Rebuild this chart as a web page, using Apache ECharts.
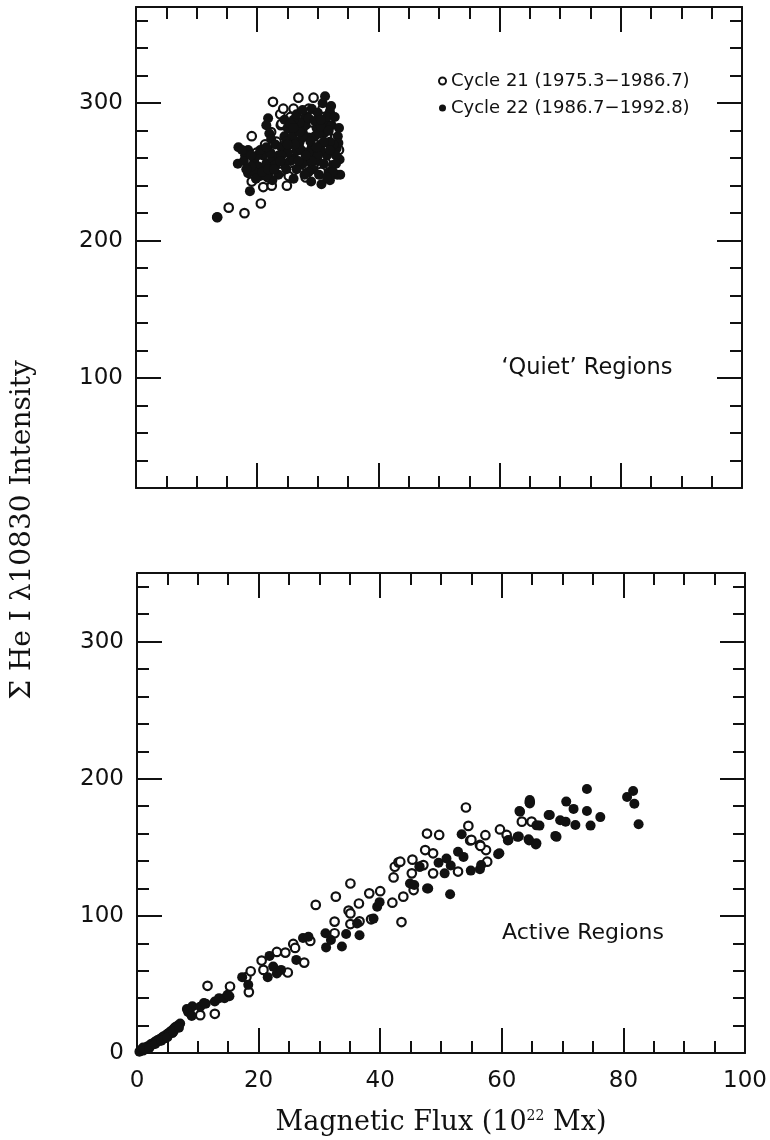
<!DOCTYPE html>
<html>
<head>
<meta charset="utf-8">
<script src="https://cdn.jsdelivr.net/npm/echarts@6/dist/echarts.min.js"></script>
<style>
html, body { margin: 0; padding: 0; background: #fff; }
#chart { width: 770px; height: 1140px; }
</style>
</head>
<body>
<div id="chart"></div>
<script>
// 刻度标签
const xLabels = [0, 20, 40, 60, 80, 100]
const quietYLabels = [100, 200, 300]
const activeYLabels = [0, 100, 200, 300]
const legendNames = ['Cycle 21 (1975.3\u22121986.7)', 'Cycle 22 (1986.7\u22121992.8)']

// 'Quiet' regions: [flux, intensity]
const quietCycle21 = [
  [13.4, 217], [15.3, 224], [17.9, 220], [20.6, 227], [19.1, 243], [21.0, 239], [22.4, 240],
  [22.9, 248], [23.8, 250], [24.9, 240], [19.9, 264], [21.3, 270], [22.9, 266], [19.1, 276],
  [23.9, 284], [23.8, 292], [24.3, 296], [22.6, 301], [26.8, 304], [29.3, 304], [26.0, 251],
  [27.8, 255], [29.3, 255], [30.4, 265], [31.0, 266], [27.9, 288], [29.0, 290], [30.0, 286],
  [30.8, 296], [28.5, 296], [25.5, 290], [26.5, 286], [25.0, 276], [27.0, 262], [28.2, 270],
  [25.8, 268], [31.5, 276], [32.5, 260], [22.0, 256], [20.5, 257], [24.5, 262], [26.5, 278],
  [28.8, 280], [29.5, 270], [30.5, 250], [26.0, 296], [27.4, 292], [32.8, 280], [31.8, 287],
  [24.0, 285], [20.0, 252], [21.8, 246], [25.2, 247], [28.0, 246], [23.2, 272], [22.3, 279],
  [33.5, 266]
]
const quietCycle22 = [
  [13.4, 217], [16.9, 268], [16.8, 256], [18.8, 236], [18.5, 249], [18.0, 262], [18.5, 266],
  [19.5, 258], [20.2, 254], [21.0, 262], [21.5, 256], [22.0, 250], [20.5, 247], [19.5, 250],
  [22.5, 260], [23.0, 255], [21.8, 289], [21.5, 284], [22.0, 278], [22.3, 274], [23.0, 270],
  [24.0, 268], [24.5, 276], [25.0, 282], [25.5, 270], [26.0, 260], [26.5, 265], [27.0, 272],
  [27.5, 278], [28.0, 284], [28.5, 275], [29.0, 268], [29.5, 262], [30.0, 258], [30.5, 270],
  [31.0, 278], [31.5, 284], [32.0, 294], [32.3, 284], [33.3, 276], [33.1, 267], [33.6, 259],
  [33.7, 248], [30.6, 241], [28.9, 243], [31.2, 305], [30.8, 300], [31.5, 290], [29.8, 282],
  [28.0, 290], [26.8, 282], [25.8, 276], [24.8, 272], [27.2, 266], [28.2, 258], [29.2, 252],
  [30.2, 248], [31.8, 250], [32.5, 255], [33.0, 262], [33.4, 271], [32.6, 270], [31.5, 262],
  [30.5, 266], [29.5, 276], [28.5, 264], [27.5, 256], [26.5, 252], [25.5, 258], [24.5, 256],
  [23.5, 262], [23.5, 248], [22.5, 244], [21.5, 247], [20.0, 262], [19.0, 254], [22.2, 264],
  [25.0, 264], [27.0, 286], [26.0, 288], [29.0, 296], [30.0, 293], [32.0, 272], [32.8, 290],
  [31.0, 256], [33.2, 248], [32.0, 244], [27.5, 276], [28.8, 272], [30.2, 278], [26.2, 270],
  [24.5, 288], [25.5, 285], [26.5, 292], [27.5, 295], [28.5, 289], [29.5, 287], [30.5, 283],
  [31.0, 272], [32.0, 266], [33.0, 256], [32.5, 250], [31.5, 246], [30.0, 262], [29.0, 258],
  [28.0, 262], [27.0, 279], [26.0, 282], [25.0, 270], [24.0, 262], [24.8, 252], [26.8, 258],
  [29.8, 268], [31.8, 280], [33.5, 282], [32.2, 298], [30.5, 288], [28.5, 250], [27.8, 248],
  [26.0, 245], [17.8, 258], [18.2, 252], [19.8, 245], [20.8, 250], [21.8, 252], [22.8, 252],
  [20.5, 266], [21.5, 268], [19.0, 262], [17.5, 266], [23.8, 258]
]

// Active regions: [flux, intensity]
const activeCycle21 = [
  [1.0, 2], [2.4, 6], [3.6, 9], [4.9, 13], [6.2, 18], [8.6, 30], [10.4, 27.6], [12.8, 28.6],
  [11.6, 49], [15.3, 48.5], [18.4, 44.4], [18.0, 55.3], [18.7, 59.6], [20.5, 67.4], [20.8, 60.6],
  [23.0, 73.7], [24.4, 73.2], [24.8, 58.7], [25.7, 79.5], [26.0, 76.6], [27.5, 65.9], [28.5, 81.7],
  [29.4, 108], [32.7, 114], [35.1, 123.6], [32.5, 95.8], [32.5, 87.3], [34.8, 103.8], [35.1, 101.8],
  [36.5, 109], [36.6, 96], [35.1, 94], [38.2, 116.4], [40.0, 118], [38.5, 97.5], [42.0, 109.6],
  [43.5, 95.5], [43.8, 114], [42.2, 128], [42.4, 135.8], [43.0, 139], [45.2, 131], [45.3, 141],
  [46.5, 136], [47.4, 148], [47.7, 160], [49.7, 159], [48.7, 145.6], [48.7, 131], [47.1, 137],
  [52.8, 132.3], [54.1, 179], [54.5, 165.6], [54.8, 155], [55.0, 155.4], [56.4, 151.7],
  [57.4, 148], [57.6, 139.5], [56.5, 151], [57.3, 158.8], [59.7, 163], [60.8, 159],
  [63.3, 168.7], [64.9, 168.7], [64.6, 183], [43.3, 139.5], [45.5, 118.8]
]
const activeCycle22 = [
  [0.4, 1], [0.7, 2], [0.9, 3], [1.2, 2.5], [1.5, 4], [1.8, 5], [2.1, 5.5], [2.3, 6.5],
  [2.6, 7], [2.9, 8], [3.1, 8.5], [3.4, 9.5], [3.7, 10], [4.0, 11], [4.3, 12], [4.6, 12.5],
  [5.0, 14], [5.3, 15], [5.6, 16], [6.0, 17.5], [6.3, 19], [6.7, 20], [7.1, 21.5], [5.8, 14.5],
  [4.4, 10.5], [8.2, 32], [9.1, 34], [8.4, 30], [9.0, 27], [10.4, 33.8], [11.0, 36.4],
  [11.3, 36], [12.8, 37.5], [13.5, 40], [14.4, 40], [14.9, 42.4], [15.2, 41.4], [17.3, 55.3],
  [18.3, 49.7], [21.8, 70.8], [21.5, 55.3], [22.4, 63], [23.0, 58], [23.7, 60.6], [26.2, 67.9],
  [27.3, 83.9], [28.2, 84.8], [31.0, 87.3], [31.1, 77], [31.9, 82.4], [33.7, 77.6], [34.4, 86.8],
  [36.6, 85.8], [36.2, 94.5], [38.9, 98], [39.5, 106.7], [39.9, 110], [44.9, 123.6],
  [45.6, 122.5], [47.9, 120], [47.7, 120], [51.5, 115.7], [46.5, 135.8], [49.6, 138.7],
  [50.6, 131], [50.9, 141.8], [51.6, 136.7], [52.8, 146.7], [53.7, 143], [53.4, 159.5],
  [54.9, 133], [56.4, 134], [56.6, 137], [59.4, 145], [59.6, 145.6], [61.0, 155], [61.1, 155.4],
  [62.6, 157.6], [62.8, 157.8], [62.9, 176.5], [63.0, 176], [64.4, 155.9], [64.5, 155],
  [65.7, 153], [65.6, 152], [64.6, 184.5], [64.6, 182], [66.2, 165.8], [65.7, 166],
  [67.9, 173.6], [67.7, 173.6], [68.8, 158.3], [69.0, 157.6], [69.6, 169.7], [70.5, 168.7],
  [70.6, 183.3], [71.8, 178], [72.1, 166.3], [74.0, 192.5], [74.0, 176.5], [74.6, 165.8],
  [76.2, 172], [80.6, 186.7], [81.6, 191], [81.8, 181.8], [82.5, 166.8],
  [1.0, 4], [2.0, 3.5], [3.0, 6.5], [4.0, 9], [5.0, 11.5], [6.0, 15.5], [6.9, 18.5]
]

const ink = '#111'
const sans = 'DejaVu Sans'
const serif = 'DejaVu Serif'
const lineStyle = { color: ink, width: 2 }

function xAxisFor (grid, pos, showLabels) {
  return {
    type: 'value',
    gridIndex: grid,
    position: pos,
    min: 0,
    max: 100,
    interval: 20,
    axisLine: { show: true, onZero: false, lineStyle: lineStyle },
    axisTick: { show: true, inside: true, length: 25, lineStyle: lineStyle },
    minorTick: { show: true, splitNumber: 4, length: 12, lineStyle: lineStyle },
    axisLabel: { show: showLabels, margin: 17, color: ink, fontFamily: sans, fontSize: 23 },
    splitLine: { show: false }
  }
}

// 主刻度(带标签)
function yMajor (grid, pos, min, labels, showLabels) {
  return {
    type: 'value',
    gridIndex: grid,
    position: pos,
    min: min,
    max: min + 350,
    axisLine: { show: true, onZero: false, lineStyle: lineStyle },
    axisTick: { show: true, inside: true, length: 25, customValues: labels, lineStyle: lineStyle },
    axisLabel: { show: showLabels, customValues: labels, margin: 13, color: ink, fontFamily: sans, fontSize: 23 },
    splitLine: { show: false }
  }
}

// 次刻度, 每 20
function yMinor (grid, pos, min) {
  return {
    type: 'value',
    gridIndex: grid,
    position: pos,
    min: min,
    max: min + 350,
    interval: 20,
    axisLine: { show: false, onZero: false },
    axisTick: { show: true, inside: true, length: 12, lineStyle: lineStyle },
    axisLabel: { show: false },
    splitLine: { show: false }
  }
}

function openSeries (name, data, xi, yi) {
  return {
    name: name, type: 'scatter', xAxisIndex: xi, yAxisIndex: yi, data: data,
    symbol: 'circle', symbolSize: 8.5,
    itemStyle: { color: '#fff', borderColor: ink, borderWidth: 2.2, opacity: 1 }
  }
}
function filledSeries (name, data, xi, yi) {
  return {
    name: name, type: 'scatter', xAxisIndex: xi, yAxisIndex: yi, data: data,
    symbol: 'circle', symbolSize: 10,
    itemStyle: { color: ink, borderColor: ink, borderWidth: 0, opacity: 1 }
  }
}

let myChart = echarts.init(document.getElementById('chart'), null, { renderer: 'canvas' })
myChart.setOption({
  backgroundColor: '#fff',
  animation: false,
  grid: [
    { left: 136, top: 7, width: 606, height: 481 },
    { left: 137, top: 573, width: 608, height: 480 }
  ],
  legend: {
    data: legendNames,
    orient: 'vertical',
    left: 433,
    top: 67,
    itemWidth: 7,
    itemHeight: 7,
    itemGap: 9,
    textStyle: { color: ink, fontFamily: sans, fontSize: 18 }
  },
  xAxis: [
    xAxisFor(0, 'bottom', false),
    xAxisFor(0, 'top', false),
    Object.assign(xAxisFor(1, 'bottom', true), {
      name: 'Magnetic Flux (10{sup|22} Mx)',
      nameLocation: 'middle',
      nameGap: 56,
      nameTextStyle: {
        color: ink, fontFamily: serif, fontSize: 27,
        rich: { sup: { fontFamily: serif, fontSize: 14, verticalAlign: 'top', padding: [0, 0, 13, 0] } }
      }
    }),
    xAxisFor(1, 'top', false)
  ],
  yAxis: [
    yMajor(0, 'left', 20, quietYLabels, true),
    yMinor(0, 'left', 20),
    yMajor(0, 'right', 20, quietYLabels, false),
    yMinor(0, 'right', 20),
    yMajor(1, 'left', 0, activeYLabels, true),
    yMinor(1, 'left', 0),
    yMajor(1, 'right', 0, activeYLabels, false),
    yMinor(1, 'right', 0)
  ],
  graphic: [
    {
      type: 'text', x: 23, y: 530, rotation: Math.PI / 2,
      style: { text: '\u03a3 He I \u03bb10830 Intensity', fill: ink, fontFamily: serif, fontSize: 28, align: 'center', verticalAlign: 'middle' }
    },
    {
      type: 'text', x: 587, y: 368,
      style: { text: '\u2018Quiet\u2019 Regions', fill: ink, fontFamily: sans, fontSize: 22.5, align: 'center', verticalAlign: 'middle' }
    },
    {
      type: 'text', x: 583, y: 933,
      style: { text: 'Active Regions', fill: ink, fontFamily: sans, fontSize: 22, align: 'center', verticalAlign: 'middle' }
    }
  ],
  series: [
    openSeries(legendNames[0], quietCycle21, 0, 0),
    filledSeries(legendNames[1], quietCycle22, 0, 0),
    openSeries(legendNames[0], activeCycle21, 2, 4),
    filledSeries(legendNames[1], activeCycle22, 2, 4)
  ]
})
</script>
</body>
</html>
